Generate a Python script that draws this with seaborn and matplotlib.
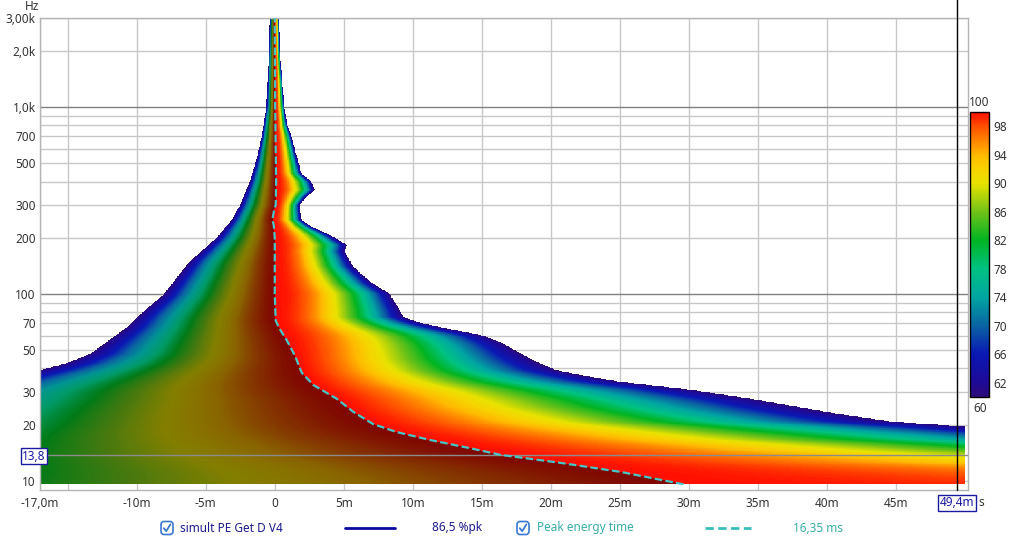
import numpy as np
import matplotlib
matplotlib.use("Agg")
import matplotlib.pyplot as plt
import seaborn as sns
from matplotlib.colors import LinearSegmentedColormap, ListedColormap, Normalize
from matplotlib.patches import FancyBboxPatch
from matplotlib.ticker import NullLocator

# ---------------- data ----------------
# lower-level (60 dB) boundary before the peak: frequency (Hz) -> time (ms)
left_edge_hz = [9.6, 10, 13.8, 20, 30, 35, 39.2, 42.7, 47.8, 52.1, 56.8, 66.6, 77.3, 98.9,
                148, 200, 250, 300, 400, 500, 700, 1000, 2000, 3000]
left_edge_ms = [-52, -50, -41, -31, -24, -20, -17, -15.1, -13.4, -12.7, -12.0, -10.7, -9.8, -8.1,
                -6.2, -4.2, -3.1, -2.5, -1.8, -1.4, -0.94, -0.6, -0.43, -0.36]

# peak energy time curve
peak_hz = [9.6, 11.2, 12.5, 13.8, 15.0, 16.6, 18.3, 20.2, 23.4, 27.5, 32.6, 38, 47, 57, 65,
           72, 100, 200, 233, 250, 280, 300, 400, 1000, 3000]
peak_ms = [29.6, 25.0, 20.7, 16.35, 14.1, 11.2, 8.8, 7.1, 5.7, 4.5, 2.8, 1.95, 1.45, 0.85, 0.36,
           0.07, 0.0, 0.0, -0.07, -0.17, -0.05, 0.07, 0.1, 0.03, 0.0]

# 60 dB boundary after the peak (decay edge)
right_edge_hz = [9.6, 10, 11, 12.5, 14.6, 16.6, 19.7, 20.7, 23.4, 27.1, 30.7, 34.0, 36.4, 39.2,
                 42.6, 47.3, 54.6, 59.3, 62.2, 65.6, 69.8, 72.5, 75.6, 82, 93, 101, 114, 140,
                 168, 183, 207, 229, 249, 299, 331, 360, 398, 442, 521, 700, 800, 1000, 2000, 3000]
right_edge_ms = [300, 250, 180, 115, 82, 64, 49.6, 44.8, 40, 35.1, 30.3, 25.0, 22.6, 20.4,
                 19.2, 18.0, 16.5, 15.3, 14.1, 12.4, 10.75, 10.0, 9.3, 9.06, 8.6, 8.3, 7.1, 5.68,
                 5.07, 5.2, 4.0, 2.66, 1.93, 1.8, 2.3, 2.9, 2.66, 1.93, 1.67, 1.2, 0.9, 0.7, 0.36, 0.3]

# decay-shape exponent after the peak (per frequency)
decay_shape_hz = [9.6, 16, 25, 45, 70, 100, 3000]
decay_shape = [1.5, 1.5, 1.3, 1.4, 1.8, 2.1, 2.1]
rise_shape = 1.5

# colour scale (dB) and tick labels
level_stops = [60, 62, 66, 70, 74, 78, 82, 86, 90, 92, 94, 98, 100]
level_colors = ['#2c0c78', '#1e0a98', '#0a18b4', '#0a64a2', '#00a6a2', '#00c282', '#00b422',
                '#70c218', '#e8e200', '#f6d400', '#ffba00', '#ff5000', '#ff1000']
dark_stops = [60, 70, 76, 82, 90, 100]
dark_factor = [1.0, 1.0, 0.85, 0.68, 0.56, 0.5]
cbar_ticks = [62, 66, 70, 74, 78, 82, 86, 90, 94, 98]

y_grid = [10, 20, 30, 40, 50, 60, 70, 80, 90, 100, 200, 300, 400, 500, 600, 700, 800, 900,
          1000, 2000, 3000]
y_labels = {10: '10', 20: '20', 30: '30', 50: '50', 70: '70', 100: '100', 200: '200',
            300: '300', 500: '500', 700: '700', 1000: '1,0k', 2000: '2,0k', 3000: '3,00k'}
x_ticks = [-17, -15, -10, -5, 0, 5, 10, 15, 20, 25, 30, 35, 40, 45]
x_labels = ['-17,0m', '', '-10m', '-5m', '0', '5m', '10m', '15m', '20m', '25m', '30m',
            '35m', '40m', '45m']

cursor_hz = 13.8
cursor_ms = 49.4
legend_names = ['simult PE Get D V4', 'Peak energy time']
legend_values = ['86,5 %pk', '16,35 ms']

# ---------------- style ----------------
sns.set_style("white")
plt.rcParams['font.family'] = ['Noto Sans', 'DejaVu Sans']
TXT = '#333333'

fig = plt.figure(figsize=(10.24, 5.44), dpi=100)
W, H = 1024, 544
ax = fig.add_axes([40 / W, 1 - 490 / H, 928 / W, 472 / H])
ax.set_yscale('log')
ax.set_xlim(-17.0, 50.2)
ax.set_ylim(8.95, 3000)

# ---------------- colour maps ----------------
bright = LinearSegmentedColormap.from_list(
    'rew', [((s - 60) / 40, c) for s, c in zip(level_stops, level_colors)])
vals = np.linspace(60, 150, 901)
cols = []
for v in vals:
    if v <= 100:
        cols.append(bright((v - 60) / 40))
    elif v < 110:
        cols.append((1, 1, 1, 1))
    else:
        L = v - 50
        r, g, b, a = bright((L - 60) / 40)
        k = np.interp(L, dark_stops, dark_factor)
        cols.append((r * k, g * k, b * k, 1))
cmap2 = ListedColormap(cols)

# ---------------- spectrogram field ----------------
t_edges = np.arange(-17.0, 50.0 + 1e-9, 0.05)
t_c = 0.5 * (t_edges[1:] + t_edges[:-1])
lf_edges = np.linspace(np.log10(9.6), np.log10(3000), 700)
f_edges = 10 ** lf_edges
lf_c = 0.5 * (lf_edges[1:] + lf_edges[:-1])
tl = np.interp(lf_c, np.log10(left_edge_hz), left_edge_ms)
tp = np.interp(lf_c, np.log10(peak_hz), peak_ms)
tr = np.interp(lf_c, np.log10(right_edge_hz), right_edge_ms)
pexp = np.interp(lf_c, np.log10(decay_shape_hz), decay_shape)
T = t_c[None, :]
post = (T - tp[:, None]) / (tr - tp)[:, None]
pre = (tp[:, None] - T) / (tp - tl)[:, None]
PE = np.broadcast_to(pexp[:, None], post.shape)
Z = np.full(post.shape, np.nan)
mpost = (post >= 0) & (post <= 1)
Z[mpost] = 100 - 40 * post[mpost] ** PE[mpost]
mpre = (pre > 0) & (pre <= 1)
Z[mpre] = 150 - 40 * pre[mpre] ** rise_shape
ax.pcolormesh(t_edges, f_edges, np.ma.masked_invalid(Z), cmap=cmap2,
              norm=Normalize(60, 150), shading='flat', rasterized=True, zorder=1)

# peak energy time line
sns.lineplot(x=peak_ms, y=peak_hz, sort=False, estimator=None, color='#45c6c8',
             linewidth=1.6, ax=ax, zorder=4)
ax.lines[-1].set_dashes([3.4, 1.5])

# cursors
ax.axhline(cursor_hz, color='#8c8c8c', lw=1, zorder=3)
ax.axvline(cursor_ms, ymin=0, ymax=1.04, color='black', lw=1, zorder=5, clip_on=False)

# ---------------- axes cosmetics ----------------
ax.yaxis.set_minor_locator(NullLocator())
ax.set_yticks(y_grid)
ax.set_yticklabels([y_labels.get(v, '') for v in y_grid])
ax.set_xticks(x_ticks)
ax.set_xticklabels(x_labels)
ax.yaxis.set_minor_locator(NullLocator())
ax.tick_params(axis='both', length=0, labelsize=8.5, labelcolor=TXT)
ax.tick_params(axis='y', pad=3)
ax.tick_params(axis='x', pad=5)
ax.set_axisbelow(True)
ax.grid(True, color='#c8c8c8', lw=1)
for v, gl in zip(y_grid, ax.yaxis.get_gridlines()):
    if v in (100, 1000):
        gl.set_color('#808080')
for s in ax.spines.values():
    s.set_color('#b4b4b4')
    s.set_linewidth(1)
ax.set_xlabel('')
ax.set_ylabel('')

fig.text(32 / W, 1 - 6 / H, 'Hz', ha='center', va='center', fontsize=8.5, color=TXT)
fig.text(978 / W, 1 - 503 / H, 's', ha='left', va='center', fontsize=8.5, color=TXT)

box = dict(boxstyle='square,pad=0.12', fc='white', ec='#1a1aa0', lw=1)
fig.text(34 / W, 1 - 456 / H, '13,8', ha='center', va='center', fontsize=8.5,
         color='#1a1aa0', bbox=box, zorder=10)
fig.text(957 / W, 1 - 503 / H, '49,4m', ha='center', va='center', fontsize=8.5,
         color='#1a1aa0', bbox=box, zorder=10)

# ---------------- colour bar ----------------
cax = fig.add_axes([970 / W, 1 - 397 / H, 19 / W, 285 / H])
sm = plt.cm.ScalarMappable(norm=Normalize(60, 100), cmap=bright)
cb = fig.colorbar(sm, cax=cax, ticks=cbar_ticks)
cb.outline.set_edgecolor('black')
cb.outline.set_linewidth(1)
cax.tick_params(direction='in', length=14, width=1, color='black', labelsize=8.5,
                labelcolor=TXT, pad=3)
fig.text(979 / W, 1 - 103 / H, '100', ha='center', va='center', fontsize=8.5, color=TXT)
fig.text(980 / W, 1 - 408 / H, '60', ha='center', va='center', fontsize=8.5, color=TXT)

# ---------------- legend row ----------------
lax = fig.add_axes([0, 0, 1, 1])
lax.set_xlim(0, W)
lax.set_ylim(H, 0)
lax.axis('off')
ly = 528
for cx in (167, 523):
    lax.add_patch(FancyBboxPatch((cx - 6, ly - 6.5), 12, 13,
                                 boxstyle='round,pad=0,rounding_size=3',
                                 fc='white', ec='#3a78d4', lw=1.2))
    lax.plot([cx - 3.2, cx - 0.8, cx + 3.4], [ly + 0.2, ly + 3.2, ly - 3.6],
             color='#3a78d4', lw=1.3, solid_capstyle='round')
lax.text(180, ly, legend_names[0], ha='left', va='center', fontsize=8.5, color='#1c1c8c')
lax.plot([345, 395], [ly, ly], color='#0a0aa0', lw=2)
lax.text(432, ly, legend_values[0], ha='left', va='center', fontsize=8.5, color='#1c1c8c')
lax.text(537, ly, legend_names[1], ha='left', va='center', fontsize=8.5, color='#38acac')
lax.plot([705, 751], [ly, ly], color='#38bcbc', lw=2, dashes=[3.0, 1.6])
lax.text(793, ly, legend_values[1], ha='left', va='center', fontsize=8.5, color='#38acac')

fig.savefig('out.png', dpi=100)
